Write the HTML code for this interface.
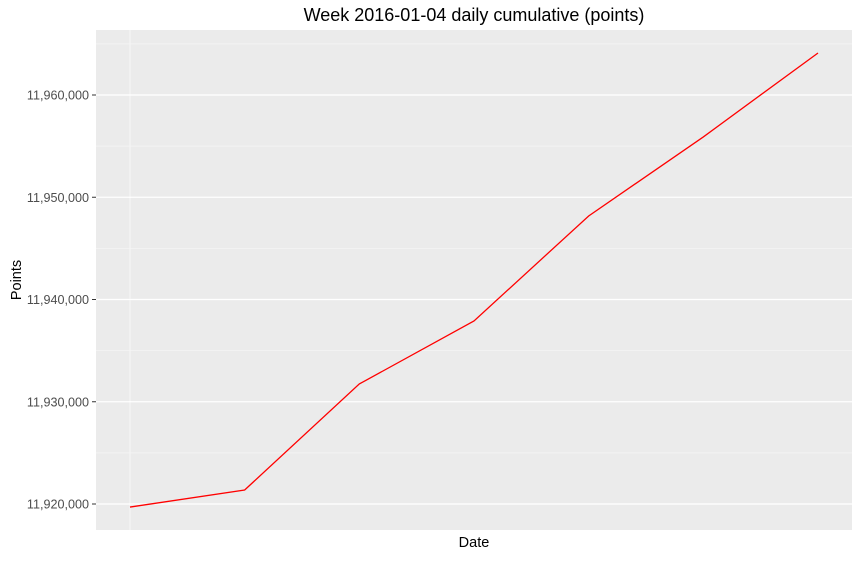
<!DOCTYPE html>
<html><head><meta charset="utf-8"><style>
body{margin:0;background:#fff;font-family:"Liberation Sans",sans-serif}
</style></head><body>
<svg id="chart" width="860" height="557" xmlns="http://www.w3.org/2000/svg"></svg>
<script>
const days = ["2016-01-04","2016-01-05","2016-01-06","2016-01-07","2016-01-08","2016-01-09","2016-01-10"];
const points = [11919700, 11921370, 11931740, 11937900, 11948170, 11955900, 11964110];
const yTicks = [11920000, 11930000, 11940000, 11950000, 11960000];
const yTickLabels = ["11,920,000","11,930,000","11,940,000","11,950,000","11,960,000"];

const NS="http://www.w3.org/2000/svg";
const svg=document.getElementById('chart');
const L=96,R=852,T=30,B=530;
const y=v=>504-(v-11920000)*0.010225;
const x=i=>130+i*(818-130)/(days.length-1);
function mk(t,a,txt){const e=document.createElementNS(NS,t);for(const k in a)e.setAttribute(k,a[k]);if(txt!=null)e.textContent=txt;svg.appendChild(e);return e;}
let e=mk('rect',{x:L,y:T,width:R-L,height:B-T,fill:'#ebebeb'});


for(let i=0;i<yTicks.length;i++){
  const v=yTicks[i]+5000;const yy=y(v);
  if(yy>T&&yy<B){e=mk('line',{x1:L,x2:R,y1:yy,y2:yy,stroke:'#f5f5f5','stroke-width':0.8});
  
  }
}
e=mk('line',{x1:x(0),x2:x(0),y1:T,y2:B,stroke:'#f5f5f5','stroke-width':1.2});


yTicks.forEach((v,i)=>{
  const yy=y(v);
  e=mk('line',{x1:L,x2:R,y1:yy,y2:yy,stroke:'#fff','stroke-width':1.2});
  
  
  e=mk('line',{x1:L-4,x2:L,y1:yy,y2:yy,stroke:'#333','stroke-width':1});
  
  
  e=mk('text',{x:L-7,y:yy+4.5,'text-anchor':'end','font-size':12.6,fill:'#4d4d4d'},yTickLabels[i]);
  
  
});
e=mk('polyline',{points:points.map((v,i)=>x(i)+','+y(v)).join(' '),fill:'none',stroke:'#ff0000','stroke-width':1.3});


e=mk('text',{x:(L+R)/2,y:21,'text-anchor':'middle','font-size':18,fill:'#000'},'Week 2016-01-04 daily cumulative (points)');


e=mk('text',{x:(L+R)/2,y:547,'text-anchor':'middle','font-size':14.5,fill:'#000'},'Date');


e=mk('text',{x:21,y:(T+B)/2,'text-anchor':'middle','font-size':14.5,fill:'#000',transform:'rotate(-90 21 '+(T+B)/2+')'},'Points');


</script>
</body></html>
